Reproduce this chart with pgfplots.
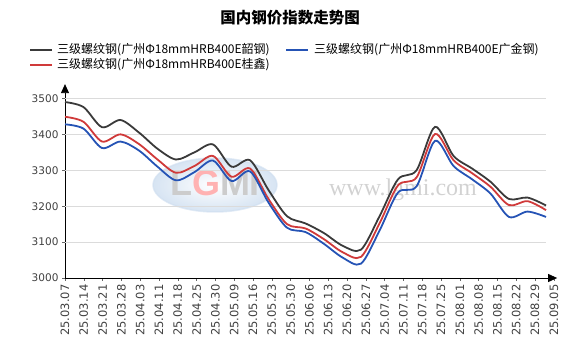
\documentclass[border=0pt]{standalone}
\usepackage{pgfplots}
\usepackage{pgfplotstable}
\pgfplotsset{compat=1.18}
\usetikzlibrary{arrows.meta}
\usepackage{fontspec}
\setmainfont{Liberation Sans}
\newfontfamily\cjk{Noto Sans CJK SC}
\newfontfamily\dv{DejaVu Sans}
\newfontfamily\wm{Liberation Serif}

\definecolor{cblack}{HTML}{3A3A3A}
\definecolor{cred}{HTML}{D03A3A}
\definecolor{cblue}{HTML}{2553B5}
\definecolor{wmblue}{HTML}{BCD2EA}

\pgfplotstableread{
i  black red  blue
0  3490  3449 3428
1  3476  3435 3416
2  3420  3380 3362
3  3440  3400 3380
4  3405  3373 3355
5  3360  3330 3310
6  3330  3293 3272
7  3350  3312 3295
8  3372  3340 3327
9  3310  3282 3270
10 3328  3305 3297
11 3245  3220 3210
12 3172  3150 3140
13 3152  3138 3128
14 3125  3108 3095
15 3090  3072 3057
16 3079  3059 3040
17 3172  3152 3132
18 3275  3258 3238
19 3300  3280 3255
20 3421  3401 3382
21 3340  3328 3312
22 3305  3292 3275
23 3268  3254 3235
24 3220  3203 3170
25 3224  3214 3185
26 3202  3189 3170
}\data

\begin{document}
\begin{tikzpicture}[x=1pt,y=1pt]
\path[use as bounding box] (0pt,0pt) rectangle (573pt,361pt);
% title
\node[font=\cjk\bfseries\fontsize{15.5}{17}\selectfont] at (290pt,343pt) {国内钢价指数走势图};
% legend
\draw[cblack, line width=2pt] (30pt,311pt) -- (52pt,311pt);
\node[anchor=west, inner sep=0pt, font=\cjk\fontsize{12}{13}\selectfont] at (57pt,311pt) {三级螺纹钢(广州Φ18mmHRB400E韶钢)};
\draw[cblue, line width=2pt] (286pt,311pt) -- (308pt,311pt);
\node[anchor=west, inner sep=0pt, font=\cjk\fontsize{12}{13}\selectfont] at (314pt,311pt) {三级螺纹钢(广州Φ18mmHRB400E广金钢)};
\draw[cred, line width=2pt] (30pt,296pt) -- (52pt,296pt);
\node[anchor=west, inner sep=0pt, font=\cjk\fontsize{12}{13}\selectfont] at (57pt,296pt) {三级螺纹钢(广州Φ18mmHRB400E桂鑫)};
% watermark
\shade[inner color=white, outer color=wmblue, opacity=0.6] (215pt,176pt) ellipse (62pt and 27pt);
\draw[wmblue!70, opacity=0.6, line width=1.5pt] (215pt,176pt) ellipse (62pt and 27pt);
\node[font=\bfseries\fontsize{36}{38}\selectfont, text=gray!40] at (215pt,178pt) {L\textcolor{red!30}{G}MI};
\node[font=\wm\fontsize{24}{26}\selectfont, text=gray!35] at (403pt,171pt) {www.lgmi.com};

\begin{axis}[
  at={(65pt,83pt)}, anchor=south west,
  scale only axis, width=492.1pt, height=193.9pt,
  xmin=0, xmax=26.6, ymin=3000, ymax=3540,
  axis x line=bottom, axis y line=left,
  axis line style={-{Triangle[length=9pt,width=8pt]}, black, line width=0.8pt},
  ytick={3000,3100,...,3500},
  xtick={0,1.0162,2.0324,3.0486,4.0649,5.0811,6.0973,7.1135,8.1297,9.1459,10.1622,11.1784,12.1946,13.2108,14.2270,15.2432,16.2595,17.2757,18.2919,19.3081,20.3243,21.3405,22.3568,23.3730,24.3892,25.4054,26.4216},
  xticklabels={25.03.07,25.03.14,25.03.21,25.03.28,25.04.03,25.04.11,25.04.18,25.04.25,25.04.30,25.05.09,25.05.16,25.05.23,25.05.30,25.06.06,25.06.13,25.06.20,25.06.27,25.07.04,25.07.11,25.07.18,25.07.25,25.08.01,25.08.08,25.08.15,25.08.22,25.08.29,25.09.05},
  xticklabel style={rotate=90, anchor=east, font=\dv\fontsize{11.5}{12}\selectfont, text=black!75},
  yticklabel style={font=\dv\fontsize{10.5}{12}\selectfont, text=black!75},
  /pgf/number format/assume math mode=true,
  /pgf/number format/set thousands separator={},
  tick align=outside, major tick length=3pt,
  every tick/.style={black!60, line width=0.5pt},
  clip=false,
]
\pgfplotsinvokeforeach{3100,3200,3300,3400,3500}{
  \draw[gray!28, line width=0.8pt] (axis cs:0,#1) -- (axis cs:26,#1);
}
\addplot[cblack, line width=1.8pt, smooth, tension=0.5] table[x=i,y=black]{\data};
\addplot[cred, line width=1.8pt, smooth, tension=0.5] table[x=i,y=red]{\data};
\addplot[cblue, line width=1.8pt, smooth, tension=0.5] table[x=i,y=blue]{\data};
\end{axis}
\end{tikzpicture}
\end{document}
